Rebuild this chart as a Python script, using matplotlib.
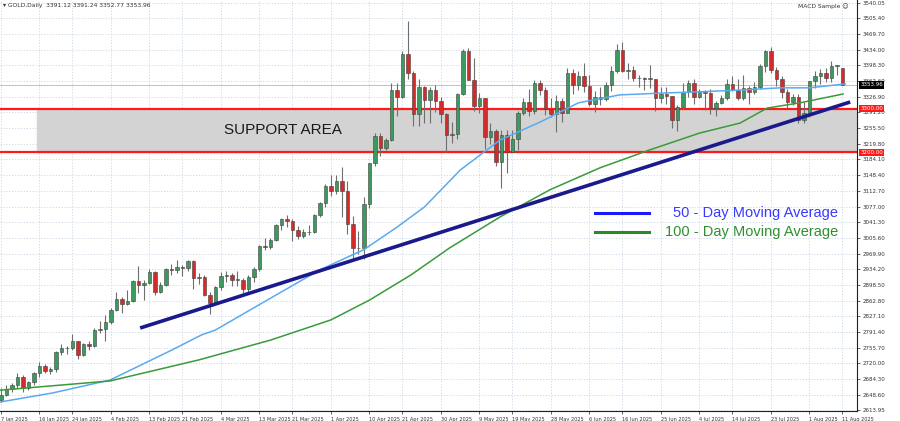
import matplotlib.pyplot as plt
import numpy as np
import pandas as pd

# daily GOLD candles, 7 Jan 2025 .. 11 Aug 2025 (no bar on Good Friday)
dates = [d for d in pd.bdate_range('2025-01-07', '2025-08-11') if d != pd.Timestamp('2025-04-18')]

opens = [2637, 2648, 2662, 2670, 2690, 2663, 2677, 2697, 2715, 2703,
         2708, 2745, 2755, 2754, 2770, 2740, 2763, 2760, 2795, 2798,
         2815, 2842, 2867, 2856, 2861, 2908, 2898, 2904, 2928, 2883,
         2898, 2935, 2933, 2939, 2936, 2952, 2915, 2917, 2876, 2858,
         2893, 2918, 2920, 2910, 2910, 2889, 2916, 2934, 2988, 2984,
         3001, 3035, 3048, 3044, 3023, 3011, 3020, 3019, 3057, 3085,
         3124, 3113, 3134, 3113, 3037, 2982, 2982, 3083, 3175, 3237,
         3211, 3229, 3343, 3327, 3424, 3381, 3288, 3349, 3319, 3343,
         3316, 3288, 3239, 3241, 3334, 3430, 3365, 3306, 3325, 3235,
         3248, 3178, 3240, 3202, 3230, 3290, 3315, 3294, 3357, 3342,
         3300, 3288, 3317, 3289, 3380, 3353, 3373, 3352, 3310, 3326,
         3322, 3354, 3386, 3432, 3385, 3388, 3369, 3369, 3368, 3368,
         3323, 3332, 3328, 3274, 3303, 3338, 3357, 3326, 3337, 3335,
         3301, 3313, 3324, 3355, 3343, 3324, 3347, 3338, 3350, 3397,
         3431, 3387, 3368, 3337, 3314, 3326, 3274, 3289, 3363, 3373,
         3381, 3369, 3397, 3391.12]
highs = [2665, 2670, 2675, 2698, 2694, 2680, 2701, 2724, 2718, 2712,
         2748, 2763, 2760, 2786, 2772, 2766, 2770, 2800, 2817, 2830,
         2845, 2882, 2870, 2886, 2910, 2942, 2910, 2935, 2930, 2905,
         2938, 2947, 2955, 2945, 2956, 2955, 2925, 2920, 2882, 2897,
         2928, 2930, 2926, 2930, 2914, 2920, 2940, 2990, 3005, 3005,
         3038, 3050, 3058, 3048, 3033, 3025, 3034, 3060, 3087, 3128,
         3149, 3149, 3168, 3136, 3055, 3022, 3099, 3176, 3245, 3245,
         3232, 3358, 3357, 3430, 3500, 3386, 3367, 3352, 3350, 3353,
         3327, 3290, 3270, 3335, 3435, 3438, 3414, 3335, 3325, 3266,
         3253, 3250, 3252, 3250, 3295, 3325, 3345, 3365, 3365, 3350,
         3325, 3330, 3325, 3392, 3390, 3385, 3403, 3376, 3340, 3349,
         3360, 3396, 3446, 3452, 3404, 3396, 3376, 3372, 3398, 3368,
         3348, 3350, 3329, 3309, 3358, 3365, 3366, 3345, 3342, 3345,
         3317, 3330, 3368, 3374, 3366, 3377, 3352, 3361, 3402, 3433,
         3439, 3394, 3373, 3345, 3334, 3334, 3315, 3363, 3385, 3390,
         3392, 3408, 3400, 3391.24]
lows = [2633, 2645, 2655, 2665, 2656, 2660, 2670, 2690, 2698, 2695,
        2700, 2740, 2742, 2750, 2731, 2736, 2750, 2757, 2790, 2772,
        2810, 2840, 2835, 2853, 2860, 2880, 2864, 2900, 2876, 2880,
        2896, 2920, 2925, 2919, 2930, 2890, 2900, 2873, 2833, 2855,
        2888, 2905, 2896, 2895, 2880, 2880, 2906, 2930, 2978, 2980,
        2998, 3023, 3030, 2999, 3004, 3006, 3012, 3016, 3054, 3077,
        3101, 3105, 3054, 3015, 2956, 2970, 2957, 3073, 3170, 3193,
        3205, 3225, 3284, 3325, 3367, 3260, 3260, 3266, 3268, 3291,
        3268, 3202, 3222, 3230, 3330, 3365, 3295, 3289, 3208, 3220,
        3170, 3120, 3153, 3206, 3205, 3285, 3284, 3287, 3330, 3285,
        3280, 3246, 3270, 3289, 3332, 3343, 3338, 3306, 3293, 3309,
        3316, 3340, 3380, 3383, 3366, 3362, 3350, 3341, 3347, 3295,
        3312, 3310, 3255, 3248, 3298, 3327, 3311, 3323, 3296, 3287,
        3282, 3310, 3320, 3340, 3320, 3319, 3310, 3332, 3345, 3383,
        3381, 3351, 3325, 3302, 3307, 3268, 3268, 3280, 3346, 3356,
        3360, 3360, 3376, 3352.77]
closes = [2648, 2662, 2670, 2690, 2663, 2677, 2697, 2715, 2703, 2708,
          2745, 2755, 2754, 2770, 2740, 2763, 2760, 2795, 2798, 2815,
          2842, 2867, 2856, 2861, 2908, 2898, 2904, 2928, 2883, 2898,
          2935, 2933, 2939, 2936, 2952, 2915, 2917, 2876, 2858, 2893,
          2918, 2920, 2910, 2910, 2889, 2916, 2934, 2988, 2984, 3001,
          3035, 3048, 3044, 3023, 3011, 3020, 3019, 3057, 3085, 3124,
          3113, 3134, 3113, 3037, 2982, 2982, 3083, 3175, 3237, 3211,
          3229, 3343, 3327, 3424, 3381, 3288, 3349, 3319, 3343, 3316,
          3288, 3239, 3241, 3334, 3430, 3365, 3306, 3325, 3235, 3248,
          3178, 3240, 3202, 3230, 3290, 3315, 3294, 3357, 3342, 3300,
          3288, 3317, 3289, 3380, 3353, 3373, 3352, 3310, 3326, 3322,
          3354, 3386, 3432, 3385, 3388, 3369, 3369, 3368, 3368, 3323,
          3332, 3328, 3274, 3303, 3338, 3357, 3326, 3337, 3335, 3301,
          3313, 3324, 3355, 3343, 3324, 3347, 3338, 3350, 3397, 3431,
          3387, 3368, 3337, 3314, 3326, 3274, 3289, 3363, 3373, 3381,
          3369, 3397, 3398, 3353.96]

# moving averages at a few bars
ma50_idx = [-0.2, 9.5, 19.8, 31, 36.5, 39, 48.4, 58, 66, 72, 77, 83.5, 90.7,
            98, 105, 112.5, 120, 127, 134.4, 141.6, 147, 153.5]
ma50_val = [2632, 2653, 2682, 2750, 2785, 2796, 2864, 2933, 2979, 3030, 3076,
            3160, 3228, 3269, 3313, 3331, 3335, 3338, 3342, 3347, 3347, 3356]
ma100_idx = [-0.2, 19.8, 36, 49, 60, 67, 74.5, 81.6, 90.7, 99.8, 108.9, 118,
             127, 134.4, 139.3, 145.3, 153.1]
ma100_val = [2659, 2680, 2728, 2773, 2819, 2864, 2921, 2983, 3053, 3115, 3165,
             3206, 3244, 3267, 3301, 3313, 3333]

# hand drawn trendline and support zone
trend_idx = [25.3, 154.4]
trend_val = [2800.5, 3314.8]
support_lo, support_hi = 3200.0, 3300.0
last_price = 3353.96

xtick_labels = ['7 Jan 2025', '16 Jan 2025', '24 Jan 2025', '4 Feb 2025', '13 Feb 2025',
                '21 Feb 2025', '4 Mar 2025', '13 Mar 2025', '21 Mar 2025', '1 Apr 2025',
                '10 Apr 2025', '21 Apr 2025', '30 Apr 2025', '9 May 2025', '19 May 2025',
                '28 May 2025', '6 Jun 2025', '16 Jun 2025', '25 Jun 2025', '4 Jul 2025',
                '14 Jul 2025', '23 Jul 2025', '1 Aug 2025', '11 Aug 2025']
yticks = [2613.95, 2648.60, 2684.30, 2720.00, 2755.70, 2791.40, 2827.10, 2862.80,
          2898.50, 2934.20, 2969.90, 3005.60, 3041.30, 3077.00, 3112.70, 3148.40,
          3184.10, 3219.80, 3255.50, 3291.20, 3326.90, 3362.60, 3398.30, 3434.00,
          3469.70, 3505.40, 3540.05]

fig = plt.figure(figsize=(9, 4.21), dpi=100)
ax = fig.add_axes([0.0, 0.0238, 0.952, 0.9762])
ax.set_xlim(-0.18, 155.6)
ax.set_ylim(2611.7, 3546.9)

idx = np.arange(len(closes))
o = np.array(opens); h = np.array(highs); l = np.array(lows); c = np.array(closes)
up = c >= o
body_col = np.where(up, '#3c9a5f', '#d42a2a')

ax.axhspan(support_lo, support_hi, xmin=37 / 857, xmax=1, color='#d3d3d3', zorder=1)
ax.axhline(support_hi, color='#ff1a1a', lw=1.6, zorder=2)
ax.axhline(support_lo, color='#ff1a1a', lw=1.6, zorder=2)
ax.axhline(last_price, color='#b8c4d0', lw=0.7, zorder=1)

ax.vlines(idx, l, h, color='#6e6e6e', lw=0.8, zorder=3)
ax.bar(idx, np.maximum(np.abs(c - o), 1.0), bottom=np.minimum(o, c), width=0.62,
       color=body_col, edgecolor='#404040', linewidth=0.4, zorder=4)

ax.plot(ma50_idx, ma50_val, color='#5aaaf0', lw=1.1, zorder=5)
ax.plot(ma100_idx, ma100_val, color='#3a9a3a', lw=1.1, zorder=5)
ax.plot(trend_idx, trend_val, color='#1a1a8c', lw=2.6, zorder=6, solid_capstyle='butt')

# grid
for s in ['left', 'top']:
    ax.spines[s].set_visible(False)
ax.spines['right'].set_color('#202020')
ax.spines['bottom'].set_color('#202020')
ax.grid(True, color='#c9d5e3', linestyle=(0, (1.5, 2)), lw=0.6, zorder=0)
ax.set_axisbelow(True)

xpos = [int(np.searchsorted(dates, pd.Timestamp(t))) for t in xtick_labels]
ax.set_xticks(xpos)
ax.set_xticklabels(xtick_labels, ha='left', fontsize=3.6, color='#333333')
ax.yaxis.tick_right()
ax.set_yticks(yticks)
ax.set_yticklabels(['%.2f' % v for v in yticks], fontsize=4.0, color='#333333')
ax.tick_params(axis='both', length=2.5, width=0.5, pad=1.5, color='#202020')

# price tags on the right scale
tag = dict(transform=ax.get_yaxis_transform(), fontsize=4.0, color='white',
           va='center', ha='left', zorder=10, clip_on=False)
ax.text(1.004, support_hi, '3300.00', bbox=dict(fc='#ff1a1a', ec='none', pad=1.0), **tag)
ax.text(1.004, support_lo, '3200.00', bbox=dict(fc='#ff1a1a', ec='none', pad=1.0), **tag)
ax.text(1.004, last_price, '3353.96', bbox=dict(fc='black', ec='none', pad=1.0), **tag)

ax.text(0.330, 0.684, 'SUPPORT AREA', transform=ax.transAxes, ha='center', va='center',
        fontsize=11, family='Liberation Sans', color='#1a1a1a', zorder=7)

# legend drawn by hand like in the screenshot
ax.plot([0.694, 0.758], [0.482, 0.482], transform=ax.transAxes, color='#1a1aff', lw=2.2, zorder=7)
ax.plot([0.694, 0.758], [0.436, 0.436], transform=ax.transAxes, color='#2a8a2a', lw=2.2, zorder=7)
ax.text(0.978, 0.482, '50 - Day Moving Average', transform=ax.transAxes, ha='right', va='center',
        fontsize=10.5, family='Liberation Sans', color='#3a3aff', zorder=7)
ax.text(0.978, 0.436, '100 - Day Moving Average', transform=ax.transAxes, ha='right', va='center',
        fontsize=10.5, family='Liberation Sans', color='#2f8f2f', zorder=7)

ax.text(0.004, 0.992, '\u25be GOLD,Daily  3391.12 3391.24 3352.77 3353.96', transform=ax.transAxes,
        ha='left', va='top', fontsize=4.3, color='#333333', zorder=8)
ax.text(0.99, 0.992, 'MACD Sample \u263a', transform=ax.transAxes,
        ha='right', va='top', fontsize=4.3, color='#333333', zorder=8)

fig.savefig('out.png', dpi=100, facecolor='white')
